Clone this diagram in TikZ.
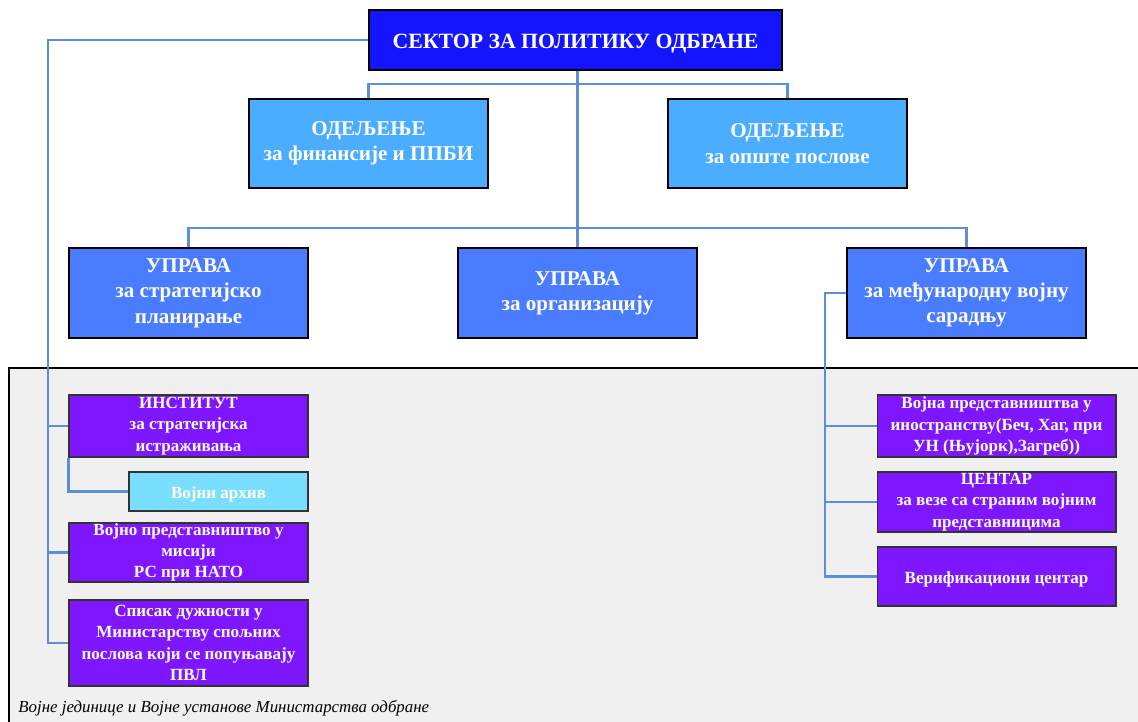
\documentclass[tikz,border=0pt]{standalone}
\usepackage{fontspec}
\setmainfont{Liberation Serif}
\definecolor{sektorblue}{RGB}{20,20,255}
\definecolor{odblue}{RGB}{75,173,255}
\definecolor{upblue}{RGB}{74,124,255}
\definecolor{unitpurple}{RGB}{126,22,255}
\definecolor{archcyan}{RGB}{122,223,255}
\definecolor{linkblue}{RGB}{92,143,214}
\definecolor{areagray}{RGB}{240,240,240}
\begin{document}
\begin{tikzpicture}[x=0.02cm, y=-0.02cm]
    \tikzset{
      topbox/.style={draw=black, line width=1.1pt, text=white, inner sep=0pt, align=center,
        execute at begin node={\rule{0pt}{1em}}},
      sektorbox/.style={topbox, fill=sektorblue, minimum width=8.26cm, minimum height=1.2cm,
        font=\fontsize{12.4}{14}\selectfont\bfseries},
      odbox/.style={topbox, fill=odblue, minimum width=4.78cm, minimum height=1.78cm,
        font=\fontsize{12}{14.4}\selectfont\bfseries},
      upbox/.style={topbox, fill=upblue, minimum width=4.78cm, minimum height=1.8cm,
        font=\fontsize{12}{14.4}\selectfont\bfseries},
      unitbox/.style={draw=black!80, line width=0.6pt, fill=unitpurple, text=white, inner sep=0pt,
        align=center, minimum width=4.78cm, font=\fontsize{9.7}{12.1}\selectfont\bfseries,
        execute at begin node={\rule{0pt}{1em}}},
      link/.style={draw=linkblue, line width=1.4pt}
    }
    \useasboundingbox (0,0) rectangle (1138,721);
    % podrucje vojnih jedinica
    \draw [fill=areagray, line width=0.9pt] (9,368) rectangle (1160,740);
    \node [anchor=base west, inner sep=0pt, font=\fontsize{9.6}{11}\selectfont\itshape] (area) at (18,712)
      {Војне јединице и Војне установе Министарства одбране};
    % sektor i odeljenja
    \node [sektorbox] (sektor) at (575.5,40) {СЕКТОР ЗА ПОЛИТИКУ ОДБРАНЕ};
    \node [odbox] (odfin) at (368.5,143.5) {ОДЕЉЕЊЕ\\за финансије и ППБИ};
    \node [odbox] (odopst) at (787.5,143.5) {ОДЕЉЕЊЕ\\за опште послове};
    % uprave
    \node [upbox] (upstrat) at (188.5,293) {УПРАВА\\за стратегијско\\планирање};
    \node [upbox] (uporg) at (577.5,293) {УПРАВА\\за организацију};
    \node [upbox] (upmedj) at (966.5,293) {УПРАВА\\за међународну војну\\сарадњу};
    % jedinice levo
    \node [unitbox, minimum height=1.24cm] (institut) at (188.5,426) {ИНСТИТУТ\\за стратегијска\\истраживања};
    \node [unitbox, fill=archcyan, minimum width=3.58cm, minimum height=0.78cm] (arhiv) at (218.5,491.5) {Војни архив};
    \node [unitbox, minimum height=1.18cm] (nato) at (188.5,552.5) {Војно представништво у\\мисији\\РС при НАТО};
    \node [unitbox, minimum height=1.72cm] (spisak) at (188.5,643) {Списак дужности у\\Министарству спољних\\послова који се попуњавају\\ПВЛ};
    % jedinice desno
    \node [unitbox, minimum height=1.24cm] (inostr) at (996.5,426) {Војна представништва у\\иностранству(Беч, Хаг, при\\УН (Њујорк),Загреб))};
    \node [unitbox, minimum height=1.2cm] (centar) at (996.5,502) {ЦЕНТАР\\за везе са страним војним\\представницима};
    \node [unitbox, minimum height=1.18cm] (verif) at (996.5,576.5) {Верификациони центар};
    % veze
    \coordinate (lbus) at (48,0);
    \coordinate (obus) at (0,84);
    \coordinate (ubus) at (0,228);
    \coordinate (rbus) at (825,0);
    \draw [link] (sektor.south -| uporg.north) -- (uporg.north);
    \draw [link] (odfin.north) |- (obus -| odopst.north) -- (odopst.north);
    \draw [link] (upstrat.north) |- (ubus -| upmedj.north) -- (upmedj.north);
    \draw [link] (sektor.west) -| (lbus |- spisak.west) -- (spisak.west);
    \draw [link] (lbus |- institut.west) -- (institut.west);
    \draw [link] (lbus |- nato.west) -- (nato.west);
    \draw [link] (institut.south west) |- (arhiv.west);
    \draw [link] (upmedj.west) -| (rbus |- verif.west) -- (verif.west);
    \draw [link] (rbus |- inostr.west) -- (inostr.west);
    \draw [link] (rbus |- centar.west) -- (centar.west);
\end{tikzpicture}
\end{document}
